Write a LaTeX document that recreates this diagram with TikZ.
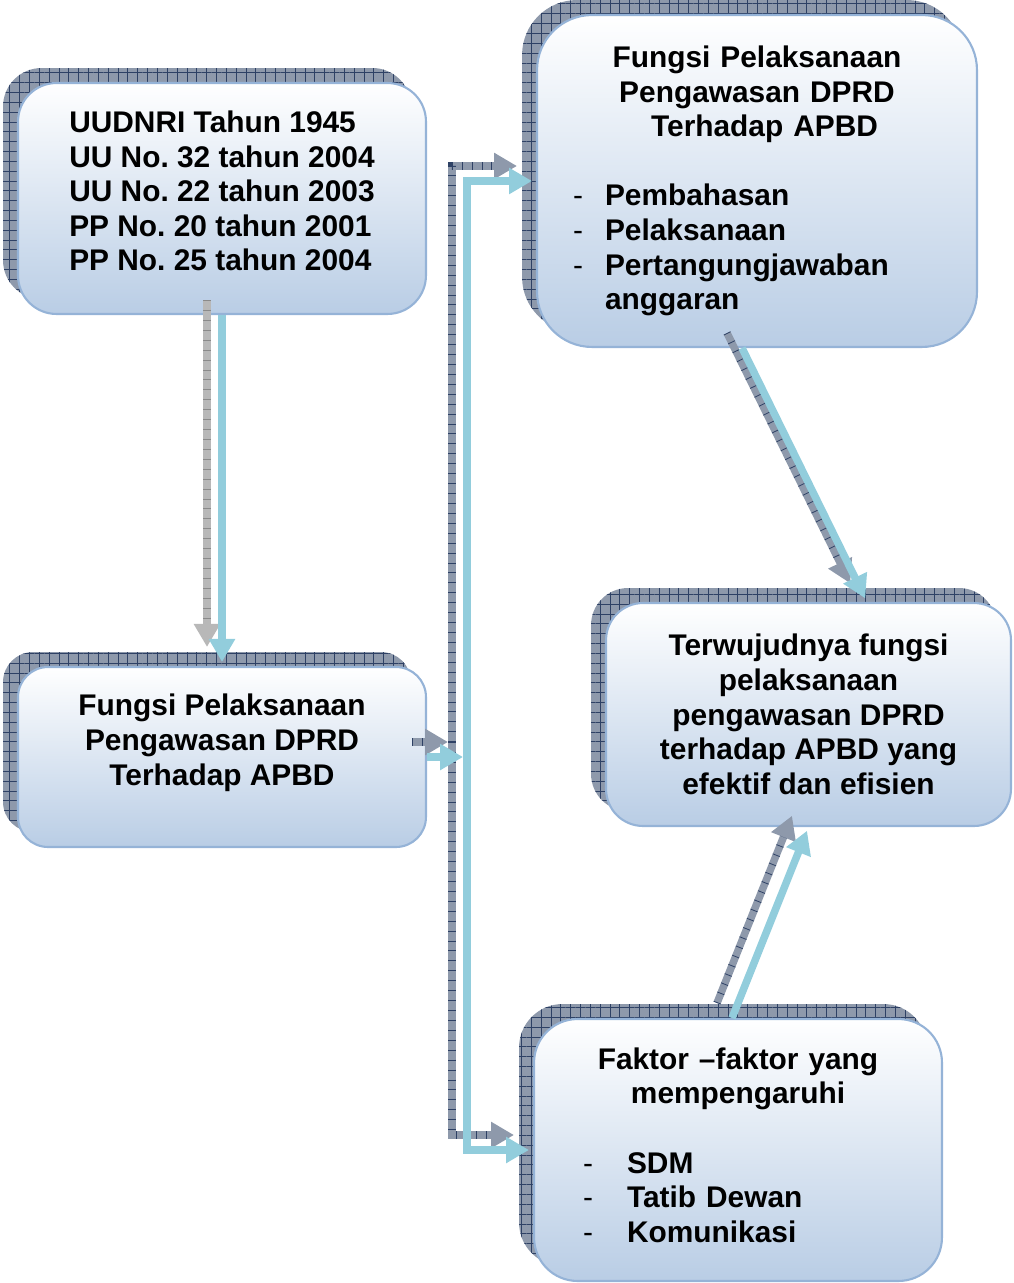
\documentclass[tikz,border=0pt]{standalone}
\usepackage{fontspec}
\setmainfont{Liberation Sans}
\frenchspacing
\usetikzlibrary{arrows.meta,shadows,patterns.meta}
\definecolor{birumuda}{HTML}{B9CDE5}
\definecolor{garisbiru}{HTML}{95B3D7}
\definecolor{bayangisi}{HTML}{8E99AB}
\definecolor{bayangnavy}{HTML}{2E4165}
\definecolor{cyanpanah}{HTML}{92CDDC}
\definecolor{abuisi}{HTML}{B8B8B8}
\definecolor{abugaris}{HTML}{8A8A8A}

\tikzset{
  kotak/.style={draw=garisbiru, line width=1.2pt, top color=white, bottom color=birumuda,
    font=\bfseries\fontsize{17}{19.7}\selectfont, inner sep=0pt,
    general shadow={shadow xshift=-0.3cm, shadow yshift=0.3cm, fill=bayangisi},
    general shadow={shadow xshift=-0.3cm, shadow yshift=0.3cm,
      pattern={Hatch[angle=0, distance=5.6pt, line width=0.5pt]}, pattern color=bayangnavy}},
  alur/.style={draw=cyanpanah, line width=0.15cm, -{Triangle[length=0.46cm, width=0.5cm]}, shorten >=0.08cm},
  bayang/.style 2 args={alur, draw=#1, transform canvas={shift={(-0.3cm,0.3cm)}},
    postaction={draw=#2, -, line width=0.15cm, dash pattern=on 0.45pt off 5.2pt, shorten >=0.54cm}},
}
\newcommand{\strip}{{\mdseries -}}

\begin{document}
\begin{tikzpicture}[x=0.02cm, y=-0.02cm]
\useasboundingbox (0,0) rectangle (1013,1283);

\node[kotak, minimum width=8.16cm, minimum height=4.62cm, rounded corners=0.77cm, align=left]
  (dasarhukum) at (222,198.5) {UUDNRI Tahun 1945\\UU No. 32 tahun 2004\\UU No. 22 tahun 2003\\PP No. 20 tahun 2001\\PP No. 25 tahun 2004\\[-11pt]\mbox{}};
\node[kotak, minimum width=8.16cm, minimum height=3.6cm, rounded corners=0.6cm, align=center]
  (fungsi) at (222,757) {Fungsi Pelaksanaan\\Pengawasan DPRD\\Terhadap APBD\\\mbox{}};
\node[kotak, minimum width=8.8cm, minimum height=6.64cm, rounded corners=1.1cm,
  text width=7.36cm, inner xsep=0.72cm, align=left]
  (rincian) at (757,181) {\makebox[\linewidth]{Fungsi Pelaksanaan}\\
    \makebox[\linewidth]{Pengawasan DPRD}\\
    \makebox[\linewidth]{\hspace{0.3cm}Terhadap APBD}\\
    \mbox{}\\
    \makebox[0.64cm][l]{\strip}Pembahasan\\
    \makebox[0.64cm][l]{\strip}Pelaksanaan\\
    \makebox[0.64cm][l]{\strip}Pertangungjawaban\\
    \hspace*{0.64cm}anggaran};
\node[kotak, minimum width=8.1cm, minimum height=4.46cm, rounded corners=0.74cm, align=center]
  (tujuan) at (808.5,714.5) {Terwujudnya fungsi\\pelaksanaan\\pengawasan DPRD\\terhadap APBD yang\\efektif dan efisien};
\node[kotak, minimum width=8.16cm, minimum height=5.24cm, rounded corners=0.87cm,
  text width=6.2cm, inner xsep=0.98cm, align=left]
  (faktor) at (738,1150) {\makebox[\linewidth]{Faktor --faktor yang}\\
    \makebox[\linewidth]{mempengaruhi}\\
    \mbox{}\\
    \makebox[0.88cm][l]{\strip}SDM\\
    \makebox[0.88cm][l]{\strip}Tatib Dewan\\
    \makebox[0.88cm][l]{\strip}Komunikasi\\[-14pt]\mbox{}};

\coordinate (cabang) at (467,757);

% bayangan panah
\draw[bayang={abuisi}{abugaris}] (dasarhukum.south) -- (fungsi.north);
\draw[bayang={bayangisi}{bayangnavy}] (fungsi.east) -- (cabang);
\draw[bayang={bayangisi}{bayangnavy}] (cabang) |- (rincian.west);
\draw[bayang={bayangisi}{bayangnavy}] (cabang) |- (faktor.west);
\draw[bayang={bayangisi}{bayangnavy}] ([xshift=-0.3cm]rincian.south) -- ([xshift=1.17cm]tujuan.north);
\draw[bayang={bayangisi}{bayangnavy}] ([xshift=-0.12cm]faktor.north) -- (tujuan.south);

% panah
\draw[alur] (dasarhukum.south) -- (fungsi.north);
\draw[alur] (fungsi.east) -- (cabang);
\draw[alur] (cabang) |- (rincian.west);
\draw[alur] (cabang) |- (faktor.west);
\draw[alur] ([xshift=-0.3cm]rincian.south) -- ([xshift=1.17cm]tujuan.north);
\draw[alur] ([xshift=-0.12cm]faktor.north) -- (tujuan.south);

\end{tikzpicture}
\end{document}
